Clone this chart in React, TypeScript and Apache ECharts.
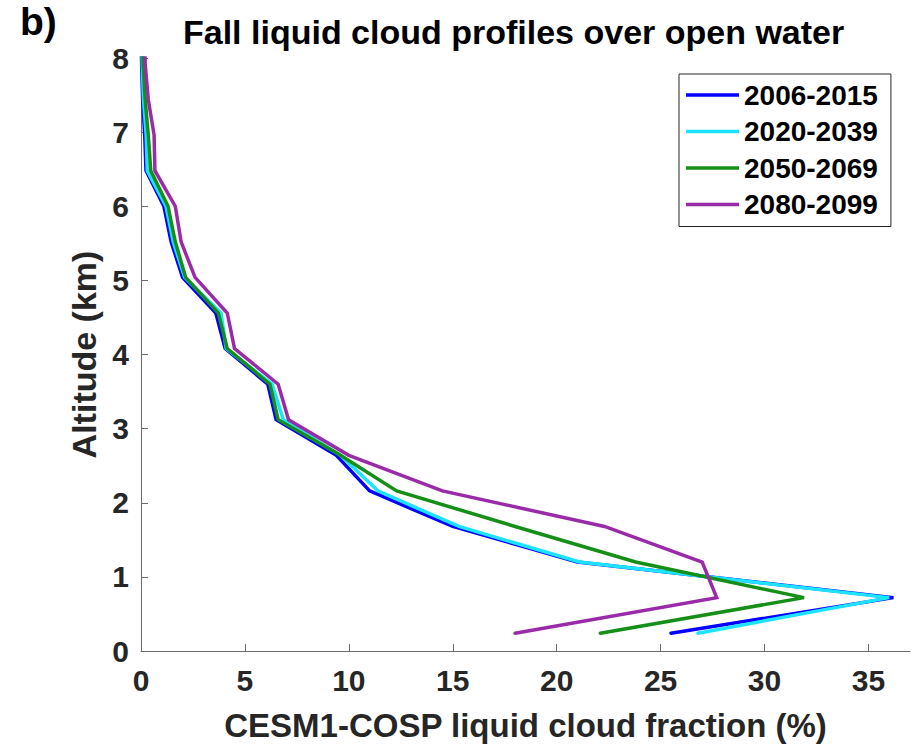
import React, { useEffect, useRef } from "react";
import * as echarts from "echarts";

const altitudes = [0.24, 0.72, 1.2, 1.68, 2.16, 2.64, 3.12, 3.6, 4.08, 4.56, 5.04, 5.52, 6.0, 6.48, 6.96, 7.44, 7.92, 8.4];

const seriesNames = ["2006-2015", "2020-2039", "2050-2069", "2080-2099"];

const frac2006 = [25.5, 36.2, 21.0, 15.0, 11.0, 9.4, 6.5, 6.1, 4.05, 3.6, 2.0, 1.45, 1.1, 0.24, 0.18, 0.08, 0.03, 0.0];
const frac2020 = [26.8, 36.0, 21.1, 15.3, 11.4, 9.6, 6.85, 6.3, 4.1, 3.85, 2.1, 1.55, 1.2, 0.3, 0.25, 0.12, 0.06, 0.03];
const frac2050 = [22.1, 31.9, 23.8, 18.0, 12.3, 9.6, 6.6, 6.2, 4.15, 3.72, 2.15, 1.65, 1.3, 0.47, 0.35, 0.2, 0.1, 0.05];
const frac2080 = [18.0, 27.7, 27.0, 22.3, 14.5, 10.0, 7.1, 6.6, 4.5, 4.15, 2.6, 1.93, 1.65, 0.67, 0.63, 0.35, 0.2, 0.18];

const colors = ["#0000ff", "#1ee3ff", "#158f18", "#9a2ba8"];

const xTicks = [0, 5, 10, 15, 20, 25, 30, 35];
const yTicks = [0, 1, 2, 3, 4, 5, 6, 7, 8];

const FONT = "'Liberation Sans', Arial, Helvetica, sans-serif";

export default function App() {
  const ref = useRef<HTMLDivElement>(null);

  useEffect(() => {
    if (!ref.current) return;
    const chart = echarts.init(ref.current, undefined, { renderer: "svg" });
    const all = [frac2006, frac2020, frac2050, frac2080];
    const axisColor = "#6b6b6b";
    chart.setOption({
      animation: false,
      backgroundColor: "#ffffff",
      title: [
        {
          text: "Fall liquid cloud profiles over open water",
          left: 183,
          top: 15,
          padding: 0,
          textStyle: { fontFamily: FONT, fontSize: 34, fontWeight: "bold", color: "#000" },
        },
        {
          text: "b)",
          left: 20,
          top: 2,
          padding: 0,
          textStyle: { fontFamily: FONT, fontSize: 39, fontWeight: "bold", color: "#000" },
        },
      ],
      legend: {
        orient: "vertical",
        left: 679,
        top: 74,
        padding: [6, 13, 7, 7],
        itemGap: 6.5,
        itemWidth: 53,
        itemHeight: 3.5,
        icon: "rect",
        borderColor: "#262626",
        borderWidth: 1,
        backgroundColor: "#ffffff",
        data: seriesNames,
        textStyle: { fontFamily: FONT, fontSize: 28, fontWeight: "bold", color: "#000", lineHeight: 30 },
      },
      grid: { left: 141, right: 9, top: 58, bottom: 95, containLabel: false, outerBoundsMode: "none" },
      xAxis: {
        type: "value",
        min: 0,
        max: 37,
        interval: 5,
        name: "CESM1-COSP liquid cloud fraction (%)",
        nameLocation: "middle",
        nameGap: 58,
        nameTextStyle: { fontFamily: FONT, fontSize: 33, fontWeight: "bold", color: "#262626", lineHeight: 33 },
        axisLine: { show: true, lineStyle: { color: axisColor, width: 1 } },
        axisTick: { show: true, inside: true, length: 7, lineStyle: { color: axisColor } },
        axisLabel: {
          margin: 14,
          fontFamily: FONT,
          fontSize: 30,
          fontWeight: "bold",
          color: "#262626",
          showMaxLabel: false,
          formatter: (v: number) => (xTicks.includes(v) ? String(v) : ""),
        },
        splitLine: { show: false },
      },
      yAxis: {
        type: "value",
        min: 0,
        max: 8,
        interval: 1,
        name: "Altitude (km)",
        nameLocation: "middle",
        nameGap: 38,
        nameRotate: 90,
        nameTextStyle: { fontFamily: FONT, fontSize: 34, fontWeight: "bold", color: "#262626" },
        axisLine: { show: true, lineStyle: { color: axisColor, width: 1 } },
        axisTick: { show: true, inside: true, length: 7, lineStyle: { color: axisColor } },
        axisLabel: {
          margin: 12,
          fontFamily: FONT,
          fontSize: 30,
          fontWeight: "bold",
          color: "#262626",
          formatter: (v: number) => (yTicks.includes(v) ? String(v) : ""),
        },
        splitLine: { show: false },
      },
      series: seriesNames.map((name, i) => ({
        name,
        type: "line",
        showSymbol: false,
        symbol: "none",
        clip: true,
        color: colors[i],
        lineStyle: { color: colors[i], width: 3.5, join: "miter", cap: "round" },
        data: all[i].map((v, k) => [v, altitudes[k]]),
        z: 2 + i,
      })),
    });
    return () => chart.dispose();
  }, []);

  return (
    <div
      ref={ref}
      style={{ position: "fixed", left: 0, top: 0, width: 919, height: 746, background: "#fff" }}
    />
  );
}
